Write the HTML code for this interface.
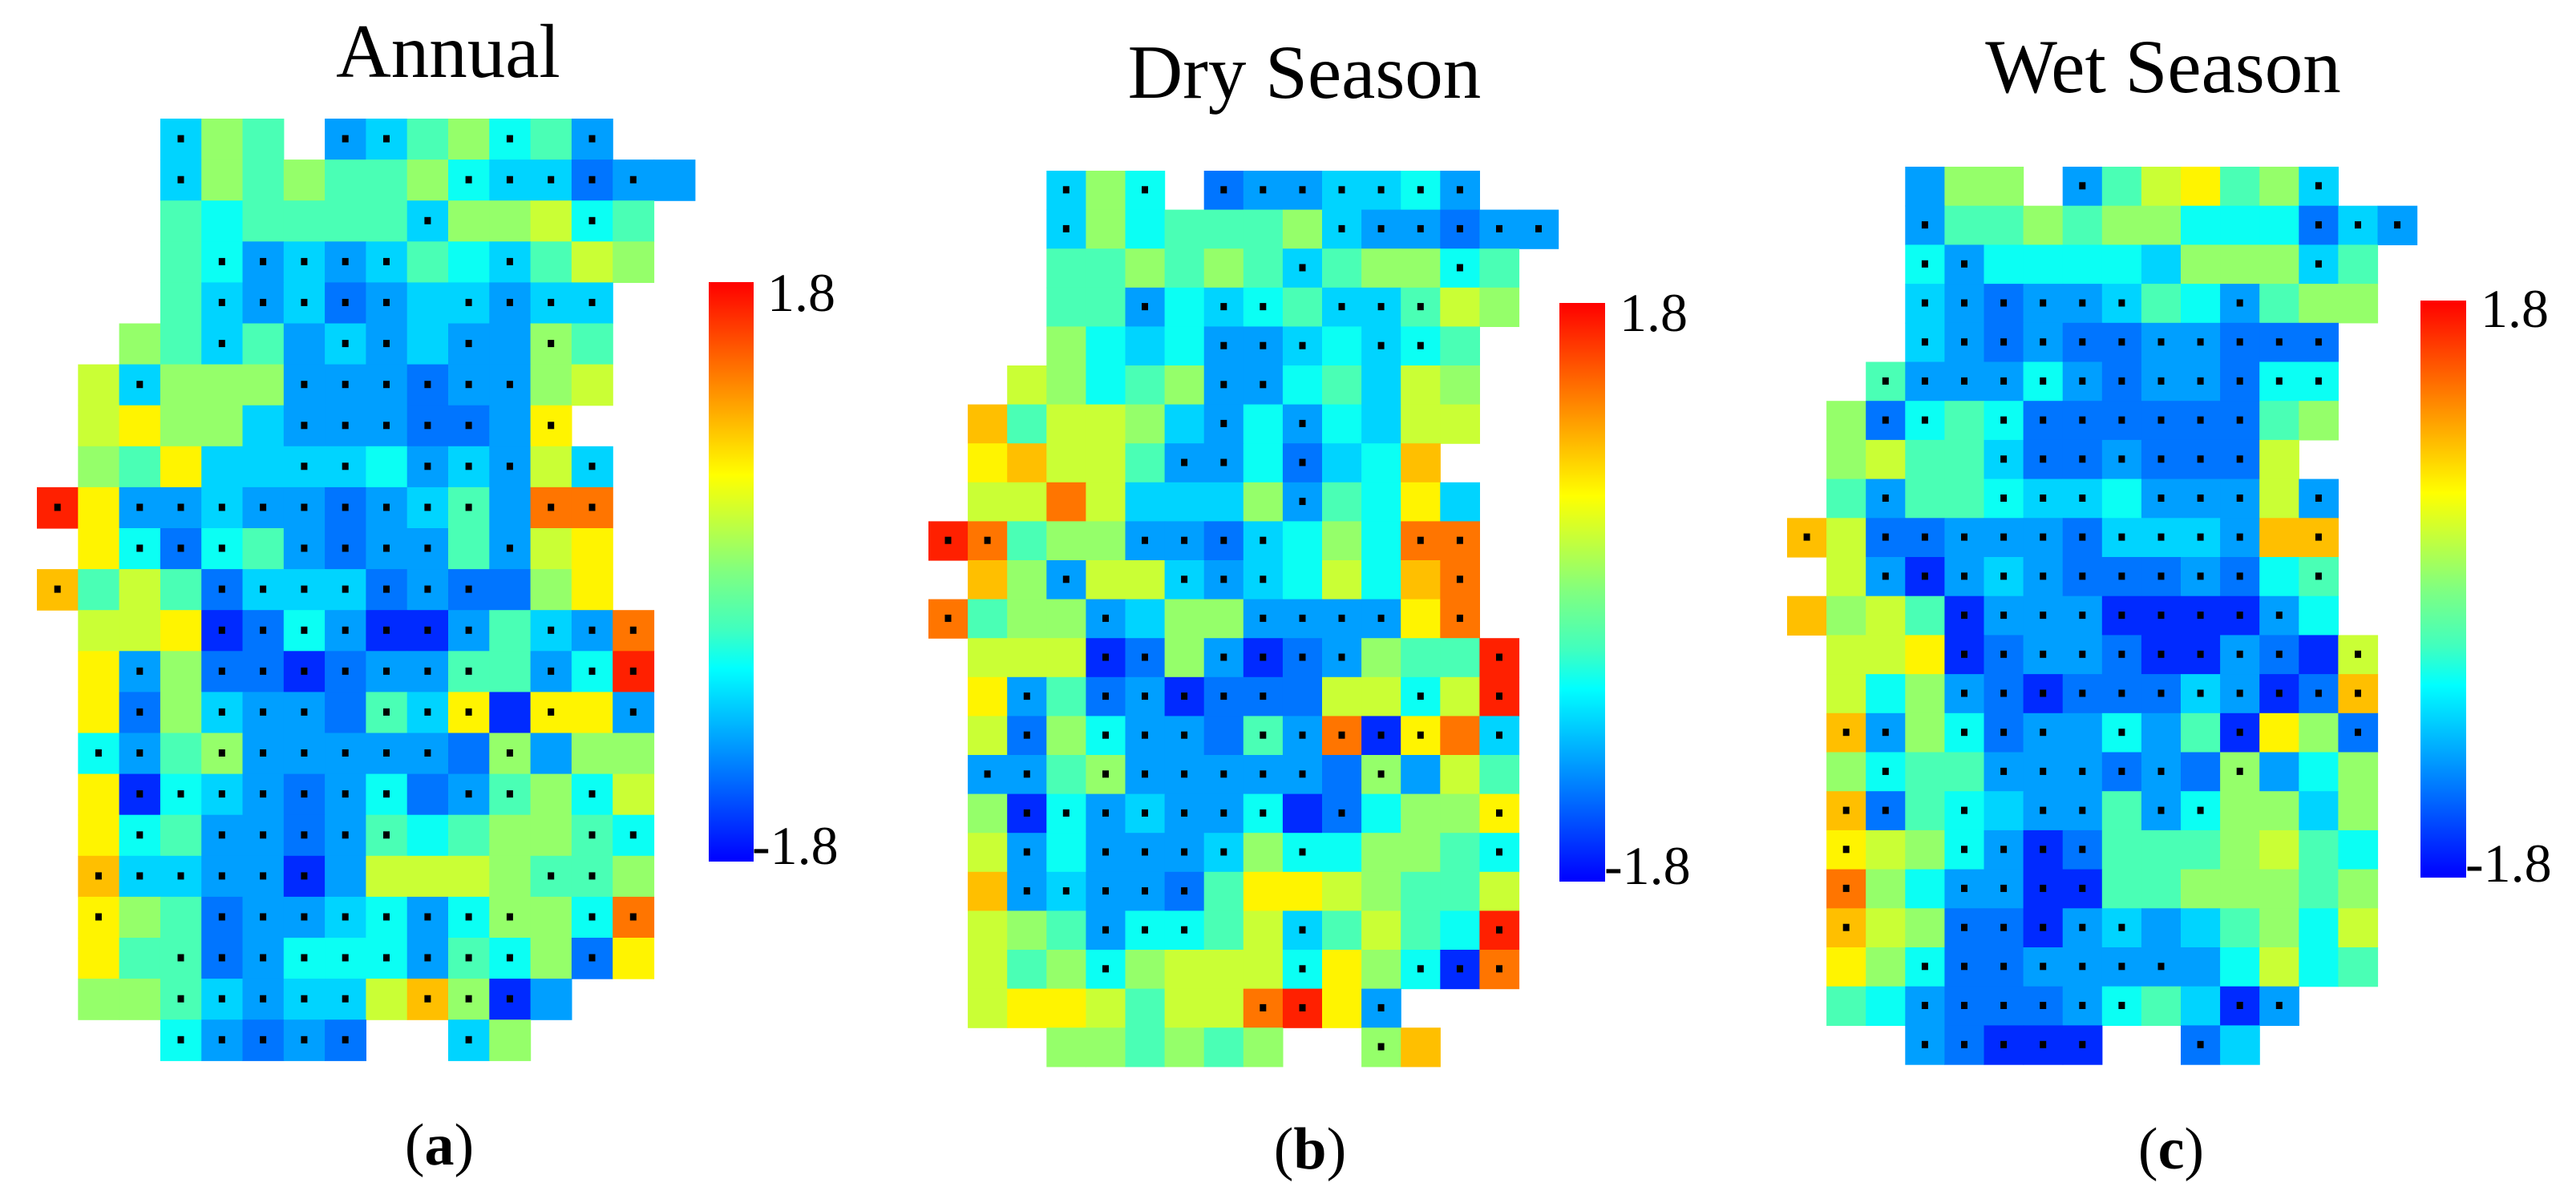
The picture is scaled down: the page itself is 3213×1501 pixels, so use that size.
<!DOCTYPE html>
<html><head><meta charset="utf-8"><style>
html,body{margin:0;padding:0;background:#fff;}
svg{display:block;}
text{font-family:"Liberation Serif",serif;fill:#000;}
</style></head><body>
<svg id="fig" width="3213" height="1501" viewBox="0 0 3213 1501" xmlns="http://www.w3.org/2000/svg">
<defs>
<linearGradient id="jet" x1="0" y1="1" x2="0" y2="0">
<stop offset="0" stop-color="#0000ff"/><stop offset="0.1667" stop-color="#0080ff"/><stop offset="0.3333" stop-color="#00ffff"/>
<stop offset="0.4" stop-color="#40ffbf"/><stop offset="0.5" stop-color="#80ff80"/><stop offset="0.6667" stop-color="#ffff00"/>
<stop offset="0.8333" stop-color="#ff8000"/><stop offset="1" stop-color="#ff0000"/>
</linearGradient>
</defs>
<g id="panels"></g>
</svg>
<script>
// colour level codes -> trend values
const levelCodes = ["B","b","m","c","C","a","g","G","y","Y","o","r"];
const levelValues = [-1.6,-1.25,-1.05,-0.8,-0.55,-0.25,0.1,0.35,0.65,0.9,1.25,1.65];
const colorMin = -1.8, colorMax = 1.8;
const tickLabels = ["1.8","-1.8"];
const panelTitles = ["Annual","Dry Season","Wet Season"];
const panelLetters = ["a","b","c"];

const annualValues = [
"...cga.mcagCam..",
"...cgagaagCccbmm",
"...aCaaaacggGCa.",
"...aCmcmcaCcaGg.",
"...acmcbmccmcc..",
"..gacamcmcmmga..",
".GcgggmmmbmmgG..",
".Gyggcmmmbbmy...",
".gayccccCmcmGc..",
"rymmcmmbmcamoo..",
".yCbCambmmamGy..",
"YaGabcccbmbbgy..",
".GGyBbCmBBmacmo.",
".ymgbbBbmmaamCr.",
".ybgcmmbacyByym.",
".Cmagmmmmmbgmgg.",
".yBCcmbmCbmagCG.",
".yCammbmaCaggaC.",
".YccmmBmGGGgaag.",
".ygabmmcCmCggCo.",
".yaabmCCCmaCgby.",
".ggacmccGYgBm...",
"...Cmbmb..cg...."];
const annualDots = [
"...*...**..*.*..",
"...*......*****.",
".........*...*..",
"....*****..*....",
"....*****.*****.",
"....*..**.*.*...",
"..*...******....",
"......*****.*...",
"......**.***.*..",
"*.*********.**..",
"..***.****.*....",
"*...*******.....",
"....*******.***.",
"..*.*******.***.",
"..*.***.***.*.*.",
".**.******.*....",
"..*******.**.*..",
"..*.*****....**.",
".******.....**..",
".*..********.**.",
"...*********.*..",
"...*****.***....",
"...*****..*....."];

const dryValues = [
"...cgC.bmmccCm..",
"...cgCaaagcmmbmm",
"...aagagacaggCa.",
"...aamCcCaccaGg.",
"...gCcCmmcCcCa..",
"..GgCagmmCacGg..",
".YaGGgcmCmCcGG..",
".yYGGammCbcCY...",
".GGoGcccgmaCyc..",
"roaggmmbcCgCoo..",
".YgmGGcmcCGCYo..",
"oaggmcggmmmmyo..",
".GGGBbgmBbmgaar.",
".ymabmBbbbGGCGr.",
".GbgCmmbamoByoc.",
".mmagmmmmmbgmGa.",
".gBCmcmmCBbCggy.",
".GmCmmmcgCCggaC.",
".YmcmmbayyGgaaG.",
".GgamCCaGcaGaCr.",
".GagCgGGGCygCBo.",
".GyyGaGGoryme...",
"...ggagag..gY..."];
const dryDots = [
"...*.*.*******..",
"...*......******",
".........*...*..",
".....*.**.***...",
".......***.**...",
".......**.......",
".......*.*......",
"......**.*......",
".........*......",
"**...****...**..",
"...*..***....*..",
"*...*...****.*..",
"....**.****...*.",
"..*.*****...*.*.",
"..*.***.*****.**",
".**.******.*....",
"..*******.*...*.",
"..*.****.*....*.",
"..*****.........",
"....***..*....*.",
"....*....*..***.",
"........**.*....",
"...........*...."];

const wetValues = [
"...mgg.maGyagc..",
"...maagaggCCCbcm",
"...CmCCCCcgggca.",
"...cmbmmcaCmagg.",
"...cmbmbbmmbbb..",
"..ammmCmbmmbCC..",
".gbCaCbbbbbbag..",
".gGaacbbmbbbG...",
".amaaCccCmmmGm..",
"YGbbmmmbcccmYY..",
".GmBmcmbbbmbCa..",
"YgGaBmmmBBBBmC..",
".GGyBbmmbBBmbBG.",
".GCgmbBbbbcmBbY.",
".YmgCbmmCmaBygb.",
".gCaammmbmbgmCg.",
".YbaCcmmamCggcg.",
".yGgCmBbaaagGaC.",
".ogCmmBBaagggag.",
".YGgbbBmcmcagCG.",
".ygCbbmmmmmCGCa.",
".aCmbbbmCacBm...",
"...mbBBB..bc...."];
const wetDots = [
".......*.....*..",
"...*.........***",
"...**........*..",
"...******..*....",
"...***********..",
"..************..",
"..**.*******....",
".....*******....",
"..*..***.***.*..",
"*.**********.**.",
"..**********.*..",
"....*********...",
"....*********.*.",
"....***********.",
".**.***.*..*..*.",
"..*..*****.*....",
".**.*.**.**.....",
".*..****........",
".*..****........",
".*..*****.......",
"...*******......",
"...******..**...",
"...*****..*....."];

const valueSets = [annualValues, dryValues, wetValues];
const dotSets = [annualDots, dryDots, wetDots];

// layout (not data)
const layout = [
 {x0:46,  y0:148, cw:51.3, ch:51.1, cbx:884,  cby:352, cbw:56, cbh:723, tx:559,  ty:96,  lx:548,  ly:1453, tk1x:957,  tk1y:388, tk2x:938,  tk2y:1078},
 {x0:1158,y0:213, cw:49.1, ch:48.6, cbx:1945, cby:378, cbw:57, cbh:722, tx:1627, ty:122, lx:1634, ly:1458, tk1x:2020, tk1y:413, tk2x:2001, tk2y:1103},
 {x0:2229,y0:208, cw:49.1, ch:48.7, cbx:3019, cby:375, cbw:57, cbh:720, tx:2698, ty:115, lx:2708, ly:1458, tk1x:3094, tk1y:408, tk2x:3075, tk2y:1100}
];

function jet(v){
  let t = 0.125 + 0.75*(v-colorMin)/(colorMax-colorMin);
  t = Math.max(0,Math.min(1,t));
  const cl = x => Math.round(255*Math.max(0,Math.min(1,x)));
  const r = Math.min(4*t-1.5, -4*t+4.5);
  const g = Math.min(4*t-0.5, -4*t+3.5);
  const b = Math.min(4*t+0.5, -4*t+2.5);
  return `rgb(${cl(r)},${cl(g)},${cl(b)})`;
}
function codeValue(ch){ const i = levelCodes.indexOf(ch); return i<0 ? null : levelValues[i]; }

const NS = "http://www.w3.org/2000/svg";
const root = document.getElementById("panels");
function mk(tag, attrs, parent){
  const e = document.createElementNS(NS, tag);
  for (const k in attrs) e.setAttribute(k, attrs[k]);
  parent.appendChild(e); return e;
}

valueSets.forEach((rows, p) => {
  const L = layout[p];
  const g = mk("g", {}, root);
  
  
  const xs = c => L.x0 + c*L.cw;
  const ys = r => L.y0 + r*L.ch;
  rows.forEach((row, r) => {
    for (let c = 0; c < row.length; c++) {
      const v = codeValue(row[c]);
      if (v === null) continue;
      const rect = mk("rect", {x: xs(c).toFixed(1), y: ys(r).toFixed(1), width: (L.cw+0.6).toFixed(1), height: (L.ch+0.6).toFixed(1), fill: jet(v)}, g);
      
      
      if ((dotSets[p][r] || "")[c] === "*") {
        const d = mk("rect", {x: (xs(c)+L.cw/2-4).toFixed(1), y: (ys(r)+L.ch/2-5).toFixed(1), width: 8, height: 9, fill: "#000"}, g);
        
        
      }
    }
  });
  const cb = mk("rect", {x: L.cbx, y: L.cby, width: L.cbw, height: L.cbh, fill: "url(#jet)"}, g);
  
  
  const t1 = mk("text", {x: L.tk1x, y: L.tk1y, "font-size": 68}, g);
  t1.textContent = tickLabels[0];
  
  
  const t2 = mk("text", {x: L.tk2x, y: L.tk2y, "font-size": 68}, g);
  t2.textContent = tickLabels[1];
  
  
  const title = mk("text", {x: L.tx, y: L.ty, "font-size": 95, "text-anchor": "middle"}, g);
  title.textContent = panelTitles[p];
  
  
  const lab = mk("text", {x: L.lx, y: L.ly, "font-size": 74, "text-anchor": "middle"}, g);
  lab.innerHTML = '(<tspan font-weight="bold">' + panelLetters[p] + '</tspan>)';
  
  
});
</script>
</body></html>
